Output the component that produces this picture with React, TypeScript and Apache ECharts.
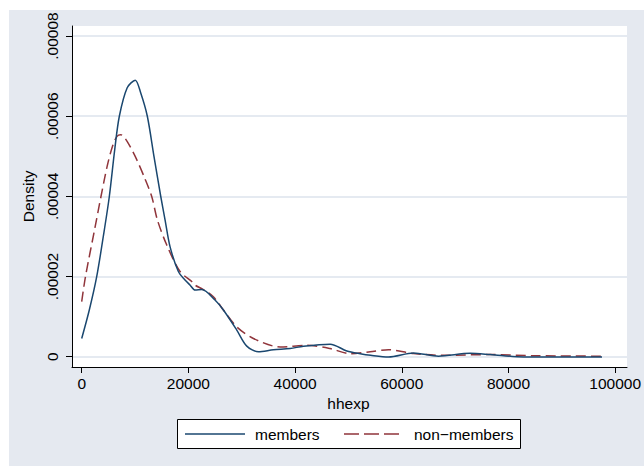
import React, { useEffect, useRef } from "react";
import * as echarts from "echarts";

// Kernel density estimates of household expenditure (hhexp)
const membersX = [0, 1420, 2800, 4230, 5160, 6170, 7030, 8500, 10000, 11030, 12260, 13500, 14770, 15570, 16500, 18060, 19300, 20260, 21180, 22430, 24900, 26470, 28970, 30840, 33010, 35810, 38940, 41420, 46410, 49530, 52020, 54000, 57310, 61980, 66650, 72580, 76320, 82540, 97200];
const membersY = [0.0000046, 0.0000117, 0.00002, 0.0000317, 0.00004, 0.0000517, 0.00006, 0.0000671, 0.000069, 0.0000658, 0.00006, 0.00005, 0.00004, 0.0000342, 0.0000275, 0.0000213, 0.0000192, 0.0000179, 0.0000167, 0.0000168, 0.0000142, 0.0000117, 0.0000067, 0.0000027, 0.0000013, 0.0000018, 0.0000021, 0.0000027, 0.0000032, 0.0000015, 0.0000008, 0.0000004, 0.0, 0.000001, 0.0000002, 0.0000009, 0.0000006, 0.0, 0.0];

const nonMembersX = [0, 700, 2400, 3600, 4800, 5800, 6600, 7300, 8000, 9030, 10280, 11700, 13080, 14130, 15890, 18370, 20560, 21180, 22730, 24600, 26470, 28970, 32080, 37070, 42050, 46410, 50150, 53890, 57310, 61980, 67590, 76320, 85000, 97200];
const nonMembersY = [0.0000138, 0.00002, 0.0000317, 0.00004, 0.0000478, 0.0000527, 0.000055, 0.0000554, 0.0000547, 0.0000525, 0.0000492, 0.0000448, 0.00004, 0.0000342, 0.0000279, 0.0000213, 0.0000188, 0.0000179, 0.0000168, 0.000015, 0.0000117, 0.0000075, 0.0000046, 0.0000025, 0.0000029, 0.0000021, 0.0000008, 0.0000013, 0.0000018, 0.00000085, 0.0000004, 0.0000006, 0.0000003, 0.0000002];

const seriesNames = ["members", "non\u2212members"];

const xTicks = [0, 20000, 40000, 60000, 80000, 100000];
const xTickLabels = ["0", "20000", "40000", "60000", "80000", "100000"];
const yTicks = [0, 0.00002, 0.00004, 0.00006, 0.00008];
const yTickLabels = ["0", ".00002", ".00004", ".00006", ".00008"];

const FONT = "'Liberation Sans', Arial, Helvetica, sans-serif";
const FS = 15.5;
const NAVY = "#1A476F";
const MAROON = "#90353B";

function labelFor(ticks: number[], labels: string[]) {
  return (v: number) => {
    let best = 0;
    for (let i = 1; i < ticks.length; i++) {
      if (Math.abs(ticks[i] - v) < Math.abs(ticks[best] - v)) best = i;
    }
    return labels[best];
  };
}

export default function App() {
  const ref = useRef<HTMLDivElement>(null);

  useEffect(() => {
    if (!ref.current) return;
    const chart = echarts.init(ref.current, null, { renderer: "svg" });

    const members = membersX.map((x, i) => [x, membersY[i]]);
    const nonMembers = nonMembersX.map((x, i) => [x, nonMembersY[i]]);

    const legendText = {
      fill: "#000",
      fontSize: FS,
      fontFamily: FONT,
      verticalAlign: "middle",
      align: "left",
    };

    chart.setOption({
      animation: false,
      backgroundColor: "#ffffff",
      textStyle: { fontFamily: FONT },
      graphic: {
        elements: [
          // graph region
          {
            type: "rect",
            z: -10,
            silent: true,
            shape: { x: 9, y: 10, width: 635, height: 456 },
            style: { fill: "#E5E9F0" },
          },
          // legend box
          {
            type: "rect",
            z: 10,
            silent: true,
            shape: { x: 177.5, y: 419.5, width: 343, height: 29 },
            style: { fill: "#ffffff", stroke: "#000", lineWidth: 1 },
          },
          {
            type: "line",
            z: 11,
            silent: true,
            shape: { x1: 185, y1: 434, x2: 245, y2: 434 },
            style: { stroke: NAVY, lineWidth: 1.5 },
          },
          {
            type: "text",
            z: 11,
            silent: true,
            x: 255,
            y: 434,
            style: { ...legendText, text: seriesNames[0] },
          },
          {
            type: "line",
            z: 11,
            silent: true,
            shape: { x1: 344, y1: 434, x2: 404, y2: 434 },
            style: { stroke: MAROON, lineWidth: 1.5, lineDash: [15, 5] },
          },
          {
            type: "text",
            z: 11,
            silent: true,
            x: 414,
            y: 434,
            style: { ...legendText, text: seriesNames[1] },
          },
        ],
      },
      grid: [
        // plotting region
        { left: 72, top: 26, width: 555, height: 341, show: true, backgroundColor: "#ffffff", borderWidth: 0, containLabel: false },
        // y ticks / grid lines
        { left: 72, top: 36, width: 555, height: 320.7, show: false, containLabel: false },
        // x ticks
        { left: 81.7, top: 26, width: 534.6, height: 341, show: false, containLabel: false },
      ],
      xAxis: [
        {
          gridIndex: 0,
          type: "value",
          min: -1813,
          max: 101869,
          axisLine: { show: true, onZero: false, lineStyle: { color: "#000", width: 1 } },
          axisTick: { show: false },
          axisLabel: { show: false },
          splitLine: { show: false },
        },
        { gridIndex: 1, type: "value", min: 0, max: 1, show: false },
        {
          gridIndex: 2,
          type: "value",
          min: 0,
          max: 100000,
          interval: 20000,
          axisLine: { show: false },
          axisTick: { show: true, inside: false, length: 6, lineStyle: { color: "#000", width: 1 } },
          axisLabel: {
            show: true,
            margin: 8,
            color: "#000",
            fontSize: FS,
            fontFamily: FONT,
            formatter: labelFor(xTicks, xTickLabels),
          },
          splitLine: { show: false },
          name: "hhexp",
          nameLocation: "middle",
          nameGap: 22,
          nameTextStyle: { color: "#000", fontSize: FS, fontFamily: FONT },
        },
      ],
      yAxis: [
        {
          gridIndex: 0,
          type: "value",
          min: -0.0000025,
          max: 0.0000825,
          axisLine: { show: true, onZero: false, lineStyle: { color: "#000", width: 1 } },
          axisTick: { show: false },
          axisLabel: { show: false },
          splitLine: { show: false },
        },
        {
          gridIndex: 1,
          type: "value",
          min: 0,
          max: 0.00008,
          interval: 0.00002,
          axisLine: { show: false },
          axisTick: { show: true, inside: false, length: 6, lineStyle: { color: "#000", width: 1 } },
          axisLabel: {
            show: true,
            rotate: 90,
            margin: 12,
            color: "#000",
            fontSize: FS,
            fontFamily: FONT,
            formatter: labelFor(yTicks, yTickLabels),
          },
          splitLine: { show: true, lineStyle: { color: "#DCE3EC", width: 1.5 } },
          name: "Density",
          nameLocation: "middle",
          nameGap: 26,
          nameTextStyle: { color: "#000", fontSize: FS, fontFamily: FONT },
        },
        { gridIndex: 2, type: "value", min: 0, max: 1, show: false },
      ],
      series: [
        {
          name: seriesNames[0],
          type: "line",
          xAxisIndex: 0,
          yAxisIndex: 0,
          data: members,
          symbol: "none",
          showSymbol: false,
          smooth: 0.3,
          lineStyle: { color: NAVY, width: 1.5, type: "solid" },
          itemStyle: { color: NAVY },
          z: 3,
        },
        {
          name: seriesNames[1],
          type: "line",
          xAxisIndex: 0,
          yAxisIndex: 0,
          data: nonMembers,
          symbol: "none",
          showSymbol: false,
          smooth: 0.3,
          lineStyle: { color: MAROON, width: 1.5, type: [10, 5] },
          itemStyle: { color: MAROON },
          z: 2,
        },
      ],
    });

    return () => chart.dispose();
  }, []);

  return (
    <div
      ref={ref}
      style={{ position: "fixed", left: 0, top: 0, width: 644, height: 466 }}
    />
  );
}
